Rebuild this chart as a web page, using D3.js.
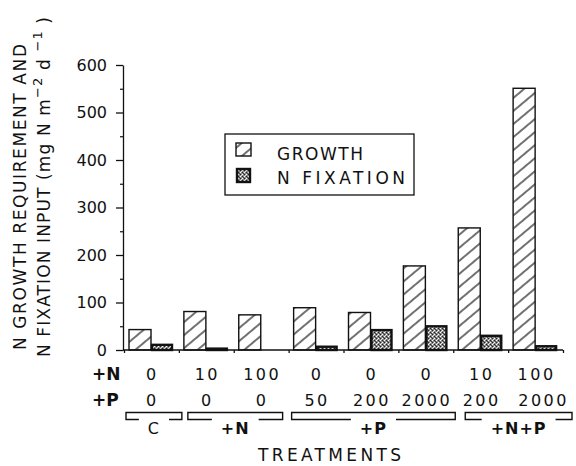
<!DOCTYPE html>
<html><head><meta charset="utf-8">
<script src="https://cdn.jsdelivr.net/npm/d3@7"></script>
<style>
html,body{margin:0;padding:0;background:#fff;}
svg{display:block;}
text{font-family:"DejaVu Sans",sans-serif;fill:#111;}
</style></head>
<body><svg id="c" width="576" height="466"></svg>
<script>
// ---- data ----
const treatments = ["t1","t2","t3","t4","t5","t6","t7","t8"];
const nLevels = ["0","10","100","0","0","0","10","100"];
const pLevels = ["0","0","0","50","200","2000","200","2000"];
const growth = [43, 81, 74, 89, 79, 177, 257, 551];
const fixation = [13, 5, 0, 9, 44, 52, 32, 10];
const seriesNames = ["GROWTH", "N FIXATION"];
const groupLabels = ["C", "+N", "+P", "+N+P"];
const groupFirst = [0, 1, 3, 6];
const groupLast = [0, 2, 5, 7];
const yTicks = [0, 100, 200, 300, 400, 500, 600];
const yMinorTicks = [50, 150, 250, 350, 450, 550];

// ---- layout ----
const svg = d3.select("#c");
const x0 = d3.scaleBand().domain(treatments).range([124, 563]).padding(0);
const x1 = d3.scaleBand().domain(seriesNames).range([5, 49]).padding(0);
const y = d3.scaleLinear().domain([0, 600]).range([350, 65]);

const defs = svg.append("defs");
const hatch = defs.append("pattern").attr("id", "hatch")
  .attr("patternUnits", "userSpaceOnUse").attr("width", 10).attr("height", 10)
  .attr("patternTransform", "rotate(-40)");
hatch.append("rect").attr("width", 10).attr("height", 10).attr("fill", "#fff");
hatch.append("line").attr("x1", -1).attr("x2", 11).attr("y1", 5).attr("y2", 5)
  .attr("stroke", "#111").attr("stroke-width", 1.2);

const stip = defs.append("pattern").attr("id", "stip")
  .attr("patternUnits", "userSpaceOnUse").attr("width", 4).attr("height", 4);
stip.append("rect").attr("width", 4).attr("height", 4).attr("fill", "#8a8a8a");
[[0,0,"#fff"],[2,2,"#fff"],[2,0,"#222"],[0,2,"#222"],[1,3,"#ddd"],[3,1,"#444"]].forEach(d =>
  stip.append("rect").attr("x", d[0]).attr("y", d[1]).attr("width", 1).attr("height", 1).attr("fill", d[2]));

function fit(sel, len) {
  sel.each(function() {
    const n = this.getNumberOfChars();
    const w = this.getComputedTextLength();
    const ls = (len - w) / Math.max(1, n - 1);
    d3.select(this).style("letter-spacing", ls + "px");
  });
}

// ---- bars ----
const rows = treatments.map((t, i) => ({t, vals: [growth[i], fixation[i]]}));
const g = svg.append("g");
rows.forEach(r => {
  g.append("rect")
    .attr("x", x0(r.t) + x1("GROWTH")).attr("width", x1.bandwidth())
    .attr("y", y(r.vals[0])).attr("height", y(0) - y(r.vals[0]))
    .attr("fill", "url(#hatch)").attr("stroke", "#111").attr("stroke-width", 1.4);
  if (r.vals[1] > 0) {
    g.append("rect")
      .attr("x", x0(r.t) + x1("N FIXATION") + 1).attr("width", x1.bandwidth() - 2)
      .attr("y", y(r.vals[1]) + 1).attr("height", Math.max(0.5, y(0) - y(r.vals[1]) - 1))
      .attr("fill", "url(#stip)").attr("stroke", "#111").attr("stroke-width", 2.4);
  }
});

// ---- axes ----
const yAxis = svg.append("g").attr("transform", "translate(123,0)")
  .call(d3.axisLeft(y).tickValues(yTicks).tickSize(7).tickSizeOuter(0).tickPadding(9));
yAxis.select(".domain").attr("stroke", "#111").attr("stroke-width", 1.3);
yAxis.selectAll(".tick line").attr("stroke", "#111").attr("stroke-width", 1.3);
yAxis.selectAll(".tick text").style("font-family", "DejaVu Sans").style("font-size", "16px").attr("fill", "#222");
const yMinor = svg.append("g").attr("transform", "translate(123,0)")
  .call(d3.axisLeft(y).tickValues(yMinorTicks).tickSize(3).tickSizeOuter(0).tickFormat(""));
yMinor.select(".domain").remove();
yMinor.selectAll(".tick line").attr("stroke", "#111").attr("stroke-width", 1.2);

const xb = d3.scaleLinear().domain([0, treatments.length]).range([124, 563]);
const xAxis = svg.append("g").attr("transform", "translate(0,350)")
  .call(d3.axisBottom(xb).tickValues(d3.range(0, treatments.length + 1)).tickSize(3).tickSizeOuter(0).tickFormat(""));
xAxis.select(".domain").attr("stroke", "#111").attr("stroke-width", 1.3).attr("d", "M123,0H563");
xAxis.selectAll(".tick line").attr("stroke", "#111").attr("stroke-width", 1.3);

// ---- treatment rows ----
const rowFont = "16px";
svg.append("text").attr("x", 92).attr("y", 380).text("+N")
  .style("font-size", "17px").style("font-weight", "bold");
svg.append("text").attr("x", 92).attr("y", 406).text("+P")
  .style("font-size", "17px").style("font-weight", "bold");
svg.selectAll("text.nl").data(nLevels).join("text").attr("class", "nl")
  .attr("x", (d, i) => x0(treatments[i]) + x0.bandwidth() / 2 + 1).attr("y", 380)
  .attr("text-anchor", "middle").style("font-size", rowFont).style("letter-spacing", "2.5px")
  .text(d => d);
svg.selectAll("text.pl").data(pLevels).join("text").attr("class", "pl")
  .attr("x", (d, i) => x0(treatments[i]) + x0.bandwidth() / 2 + (i === 7 ? 8 : 1)).attr("y", 406)
  .attr("text-anchor", "middle").style("font-size", rowFont).style("letter-spacing", "2.5px")
  .text(d => d);

// ---- group brackets ----
const bracketPad = [[2, 3], [9, -6], [3, 2], [12, 9]];
groupLabels.forEach((lab, k) => {
  const a = x0(treatments[groupFirst[k]]) + bracketPad[k][0];
  const b = x0(treatments[groupLast[k]]) + x0.bandwidth() + bracketPad[k][1];
  const c = (a + b) / 2;
  const t = svg.append("text").attr("x", c).attr("y", 434).attr("text-anchor", "middle")
    .style("font-size", "16px").style("font-weight", lab === "C" ? "normal" : "bold")
    .style("letter-spacing", "1px").text(lab);
  const w = t.node().getComputedTextLength();
  const gap = w / 2 + 9;
  svg.append("path")
    .attr("d", `M${c - gap},419.5H${a}V412.5H${b}V419.5H${c + gap}`)
    .attr("fill", "none").attr("stroke", "#111").attr("stroke-width", 1.4);
});

svg.append("text").attr("x", 258).attr("y", 461).text("TREATMENTS")
  .style("font-size", "17px").call(fit, 143);

// ---- y title ----
const t1 = svg.append("text").attr("transform", "translate(26,350) rotate(-90)")
  .attr("x", 0).attr("y", 0).style("font-size", "17px").text("N GROWTH REQUIREMENT AND");
fit(t1, 306);
const t2 = svg.append("text").attr("transform", "translate(50,357) rotate(-90)")
  .attr("x", 0).attr("y", 0).style("font-size", "17px");
t2.append("tspan").text("N FIXATION INPUT  (mg N  m");
t2.append("tspan").attr("dy", -8).style("font-size", "13px").text("−2");
t2.append("tspan").attr("dy", 8).text(" d ");
t2.append("tspan").attr("dy", -8).style("font-size", "13px").text("−1");
t2.append("tspan").attr("dy", 8).text(" )");
fit(t2, 340);

// ---- legend ----
const lg = svg.append("g");
lg.append("rect").attr("x", 225).attr("y", 134).attr("width", 189).attr("height", 61)
  .attr("fill", "#fff").attr("stroke", "#111").attr("stroke-width", 1.3);
lg.append("rect").attr("x", 236).attr("y", 143).attr("width", 15).attr("height", 13)
  .attr("fill", "url(#hatch)").attr("stroke", "#111").attr("stroke-width", 1.4);
lg.append("rect").attr("x", 237).attr("y", 169).attr("width", 13).attr("height", 13)
  .attr("fill", "url(#stip)").attr("stroke", "#111").attr("stroke-width", 2.4);
lg.append("text").attr("x", 277).attr("y", 160).style("font-size", "17px").text(seriesNames[0]).call(fit, 86);
lg.append("text").attr("x", 277).attr("y", 184).style("font-size", "17px").text(seriesNames[1]).call(fit, 128);
</script></body></html>
